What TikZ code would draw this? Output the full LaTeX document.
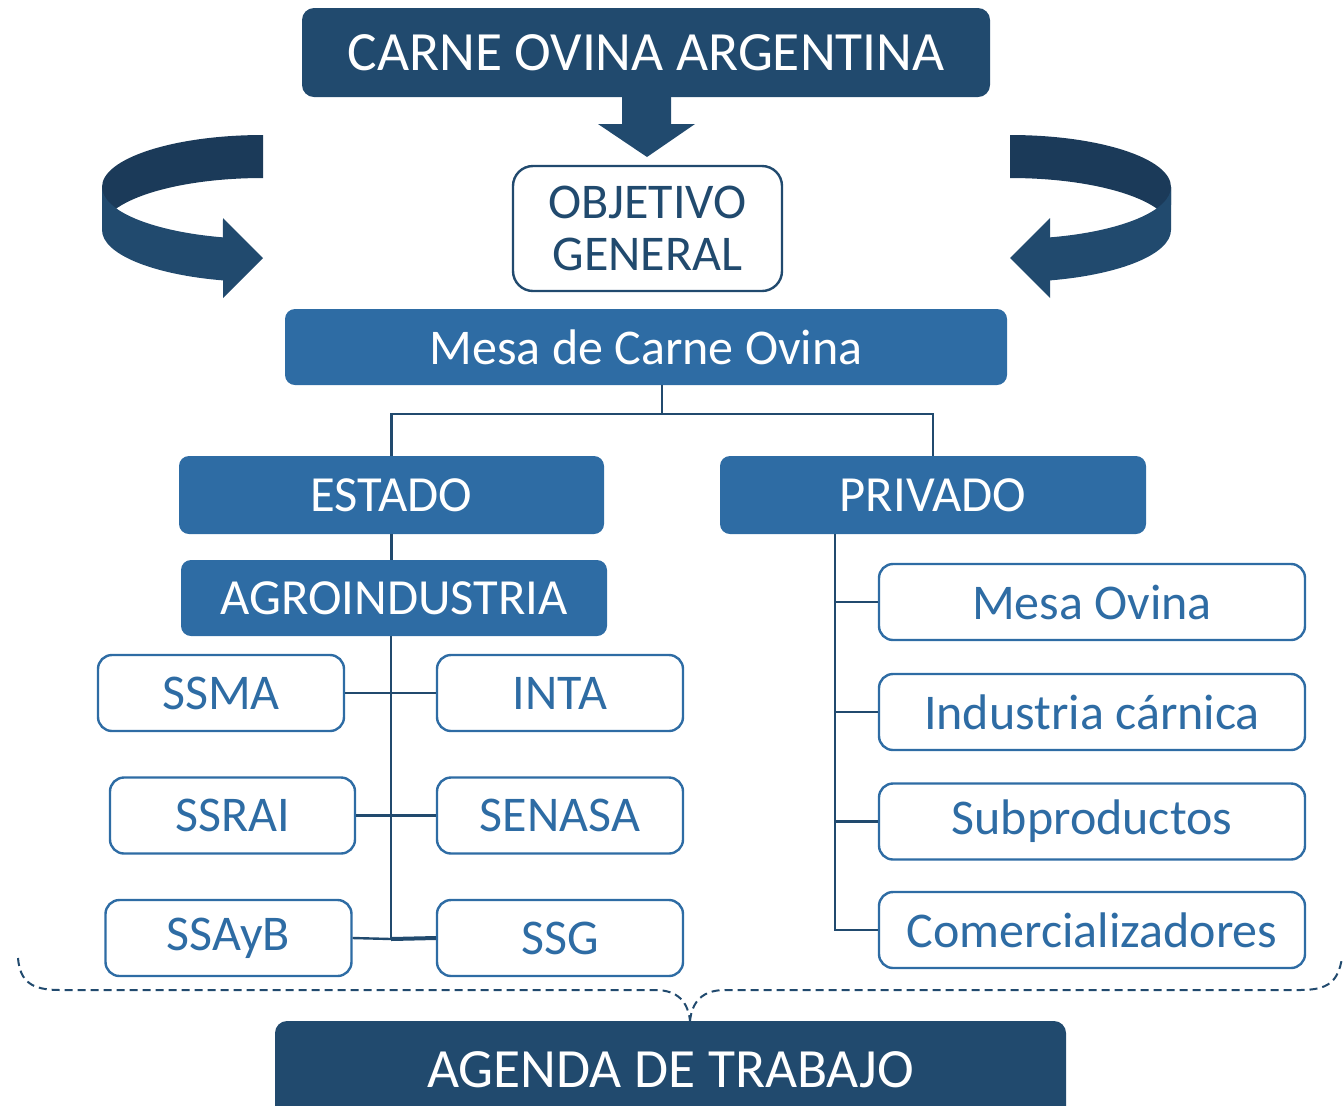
\documentclass[tikz,border=0pt]{standalone}
\usepackage{fontspec}
\setmainfont{Carlito}
\usepackage{tikz}
\definecolor{navy}{RGB}{33,74,110}
\definecolor{navyback}{RGB}{27,58,89}
\definecolor{midblue}{RGB}{46,108,164}
\tikzstyle{darkbox} = [fill=navy, text=white, rounded corners=6pt, inner sep=0pt, font=\fontsize{27.7}{30}\selectfont]
\tikzstyle{bluebox} = [fill=midblue, text=white, rounded corners=5pt, minimum height=38pt, inner sep=0pt, font=\fontsize{25.3}{27}\selectfont]
\tikzstyle{whitebox} = [draw=midblue, line width=1.2pt, fill=white, text=midblue, rounded corners=7pt, minimum width=123pt, minimum height=38pt, inner sep=0pt, font=\fontsize{25}{27}\selectfont]
\tikzstyle{privbox} = [whitebox, minimum width=213pt]
\tikzstyle{conn} = [navy, line width=1.2pt]

\begin{document}
\begin{tikzpicture}[x=0.5pt,y=-0.5pt]
			\clip (0,0) rectangle (1344,1105);
			\node[darkbox, minimum width=344pt, minimum height=44.5pt] (top) at (646,52.5) {CARNE OVINA ARGENTINA};
			\fill[navy] (622,97) -- (622,124) -- (598,124) -- (647,157) -- (695,124) -- (671,124) -- (671,97) -- cycle;
			\node[draw=navy, line width=1.2pt, text=navy, rounded corners=10pt, minimum width=134.5pt, minimum height=62.5pt, inner sep=0pt, align=center, font=\fontsize{25}{26}\selectfont] (obj) at (647.5,228.5) {OBJETIVO\\GENERAL};
			\fill[navyback] (263,135) arc[start angle=270, end angle=180, x radius=161, y radius=52] -- (102,230) arc[start angle=180, end angle=270, x radius=161, y radius=52] -- cycle;
			\fill[navy] (102,187) arc[start angle=180, end angle=104.4, x radius=161, y radius=52] -- (223,218) -- (263,258) -- (223,298) -- (223,280.4) arc[start angle=104.4, end angle=180, x radius=161, y radius=52] -- cycle;
			\begin{scope}[shift={(1273,0)}, xscale=-1]
				\fill[navyback] (263,135) arc[start angle=270, end angle=180, x radius=161, y radius=52] -- (102,230) arc[start angle=180, end angle=270, x radius=161, y radius=52] -- cycle;
				\fill[navy] (102,187) arc[start angle=180, end angle=104.4, x radius=161, y radius=52] -- (223,218) -- (263,258) -- (223,298) -- (223,280.4) arc[start angle=104.4, end angle=180, x radius=161, y radius=52] -- cycle;
			\end{scope}
			\node[bluebox, minimum width=361pt, font=\fontsize{25}{27}\selectfont] (mesa) at (646,347) {Mesa de Carne Ovina};
			\node[bluebox, minimum width=212.5pt, minimum height=39pt] (estado) at (391.5,495) {ESTADO};
			\node[bluebox, minimum width=213pt, minimum height=39pt] (privado) at (933,495) {PRIVADO};
			\node[bluebox, minimum width=213pt] (agro) at (394,598) {AGROINDUSTRIA};
			\node[whitebox] (ssma) at (221,693) {SSMA};
			\node[whitebox] (inta) at (560,693) {INTA};
			\node[whitebox, minimum width=122.5pt] (ssrai) at (232.5,815.5) {SSRAI};
			\node[whitebox] (senasa) at (560,815.5) {SENASA};
			\node[whitebox] (ssayb) at (228.5,938) {SSAyB};
			\node[whitebox] (ssg) at (560,938) {SSG};
			\node[privbox] (mo) at (1092,602) {Mesa Ovina};
			\node[privbox] (ic) at (1092,712) {Industria cárnica};
			\node[privbox] (sub) at (1092,821.5) {Subproductos};
			\node[privbox] (com) at (1092,930) {Comercializadores};
			\coordinate (split) at (662,414);
			\coordinate (trunk) at (391,939);
			\coordinate (ptrunk) at (835,930);
			\draw[conn] (mesa.south -| split) -- (split);
			\draw[conn] (estado.north) |- (split) -| (privado.north);
			\draw[conn] (estado.south) -- (estado.south |- agro.north);
			\draw[conn] (agro.south -| trunk) -- (trunk);
			\draw[conn] (ssma.east) -- (inta.west);
			\draw[conn] (ssrai.east) -- (senasa.west);
			\draw[conn] (ssayb.east) -- (trunk);
			\draw[conn, line width=2pt] (trunk) -- (ssg.west);
			\draw[conn] (privado.south -| ptrunk) -- (ptrunk) -- (com.west);
			\draw[conn] (ptrunk |- mo.west) -- (mo.west);
			\draw[conn] (ptrunk |- ic.west) -- (ic.west);
			\draw[conn] (ptrunk |- sub.west) -- (sub.west);
			\node[darkbox, minimum width=395.5pt, minimum height=49pt] (agenda) at (670.5,1070) {AGENDA DE TRABAJO};
			\draw[navy, line width=1pt, dash pattern=on 4pt off 2.5pt] (18,958) .. controls (20,982) and (32,990) .. (60,990) -- (655,990) .. controls (678,990) and (688,1002) .. (690,1021);
			\draw[navy, line width=1pt, dash pattern=on 4pt off 2.5pt] (690,1021) .. controls (692,1002) and (702,990) .. (725,990) -- (1300,990) .. controls (1328,990) and (1338,982) .. (1342,958);
		\end{tikzpicture}
\end{document}
